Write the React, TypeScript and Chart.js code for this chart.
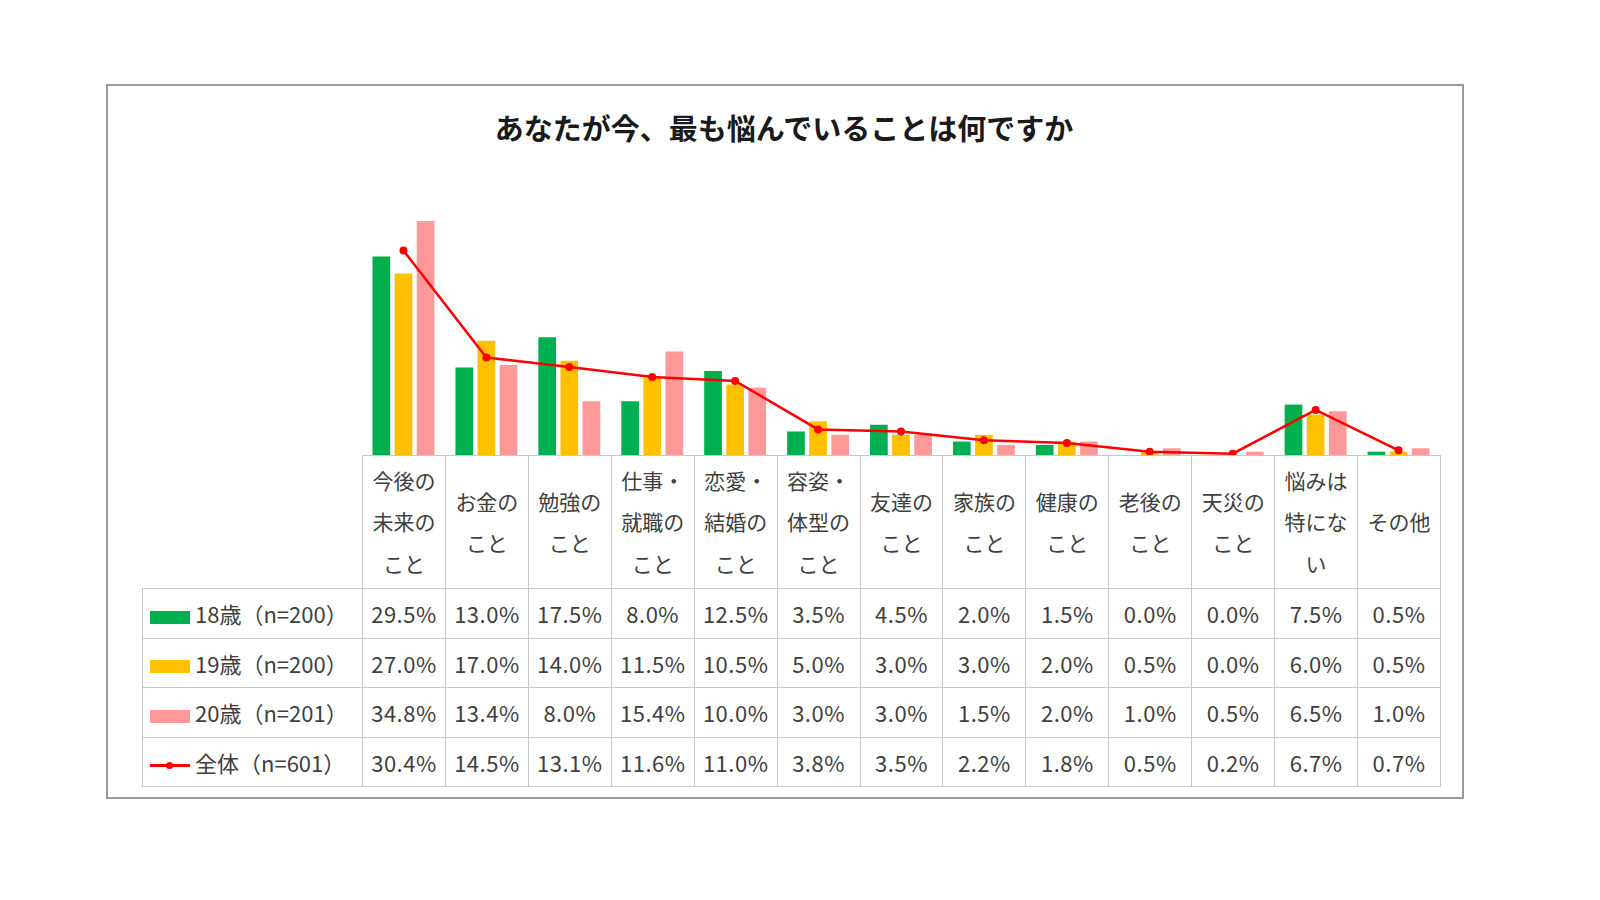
import { useEffect, useRef } from 'react';
import { Chart, registerables } from 'chart.js';

Chart.register(...registerables);

const categories = [
  '今後の\n未来の\nこと',
  'お金の\nこと',
  '勉強の\nこと',
  '仕事・\n就職の\nこと',
  '恋愛・\n結婚の\nこと',
  '容姿・\n体型の\nこと',
  '友達の\nこと',
  '家族の\nこと',
  '健康の\nこと',
  '老後の\nこと',
  '天災の\nこと',
  '悩みは\n特にな\nい',
  'その他',
];

const age18 = [29.5, 13.0, 17.5, 8.0, 12.5, 3.5, 4.5, 2.0, 1.5, 0.0, 0.0, 7.5, 0.5];
const age19 = [27.0, 17.0, 14.0, 11.5, 10.5, 5.0, 3.0, 3.0, 2.0, 0.5, 0.0, 6.0, 0.5];
const age20 = [34.8, 13.4, 8.0, 15.4, 10.0, 3.0, 3.0, 1.5, 2.0, 1.0, 0.5, 6.5, 1.0];
const total = [30.4, 14.5, 13.1, 11.6, 11.0, 3.8, 3.5, 2.2, 1.8, 0.5, 0.2, 6.7, 0.7];

const seriesNames = ['18歳（n=200）', '19歳（n=200）', '20歳（n=201）', '全体（n=601）'];
const colors = ['#00B050', '#FFC000', '#FF9999', '#FF0000'];

const FONT = '"Noto Sans CJK JP", "Noto Sans", sans-serif';
const COL_W = 1078 / categories.length;
const TEXT = '#404040';
const GRID = '#c8c8c8';

export default function App() {
  const chartRef = useRef<HTMLCanvasElement>(null);
  const chartInstance = useRef<Chart | null>(null);

  useEffect(() => {
    if (!chartRef.current) return;
    const ctx = chartRef.current.getContext('2d');
    if (!ctx) return;
    if (chartInstance.current) chartInstance.current.destroy();

    const barSet = (label: string, data: number[], color: string) => ({
      type: 'bar' as const,
      label,
      data,
      backgroundColor: color,
      borderWidth: 0,
      categoryPercentage: 0.8,
      barPercentage: 0.8,
      order: 1,
    });

    chartInstance.current = new Chart(ctx, {
      type: 'bar',
      data: {
        labels: categories,
        datasets: [
          barSet(seriesNames[0], age18, colors[0]),
          barSet(seriesNames[1], age19, colors[1]),
          barSet(seriesNames[2], age20, colors[2]),
          {
            type: 'line' as const,
            label: seriesNames[3],
            data: total,
            borderColor: colors[3],
            backgroundColor: colors[3],
            borderWidth: 2.5,
            pointRadius: 4,
            pointBackgroundColor: colors[3],
            pointBorderWidth: 0,
            tension: 0,
            clip: false,
            order: 0,
          } as any,
        ],
      },
      options: {
        responsive: false,
        maintainAspectRatio: false,
        animation: false,
        layout: { padding: 0, autoPadding: false },
        scales: {
          x: { display: false, offset: true },
          y: { display: false, min: 0, max: 40 },
        },
        plugins: {
          legend: { display: false },
          tooltip: { enabled: false },
        },
      },
    });

    return () => {
      if (chartInstance.current) {
        chartInstance.current.destroy();
        chartInstance.current = null;
      }
    };
  }, []);

  const rows = [age18, age19, age20, total];

  const cell: React.CSSProperties = {
    border: `1px solid ${GRID}`,
    textAlign: 'center',
    verticalAlign: 'middle',
    padding: 0,
    fontSize: 22,
    color: TEXT,
    whiteSpace: 'nowrap',
  };

  const swatch = (i: number) =>
    i < 3 ? (
      <span
        style={{
          display: 'inline-block',
          width: 40,
          height: 13,
          background: colors[i],
          marginRight: 5,
          verticalAlign: 'middle',
        }}
      />
    ) : (
      <span
        style={{
          display: 'inline-block',
          position: 'relative',
          width: 40,
          height: 13,
          marginRight: 5,
          verticalAlign: 'middle',
        }}
      >
        <span style={{ position: 'absolute', left: 0, top: 5, width: 40, height: 2.5, background: colors[3] }} />
        <span
          style={{
            position: 'absolute',
            left: 16,
            top: 3,
            width: 7,
            height: 7,
            borderRadius: '50%',
            background: colors[3],
          }}
        />
      </span>
    );

  return (
    <div
      style={{
        position: 'fixed',
        left: 0,
        top: 0,
        width: 1600,
        height: 900,
        background: '#fff',
        fontFamily: FONT,
      }}
    >
      <div
        style={{
          position: 'absolute',
          left: 106,
          top: 84,
          width: 1354,
          height: 711,
          border: '2px solid #9a9a9a',
        }}
      />
      <div
        style={{
          position: 'absolute',
          left: 106,
          top: 106,
          width: 1356,
          textAlign: 'center',
          fontSize: 29,
          fontWeight: 'bold',
          color: '#1a1a1a',
        }}
      >
        あなたが今、最も悩んでいることは何ですか
      </div>
      <div style={{ position: 'absolute', left: 362, top: 186, width: 1078, height: 269 }}>
        <canvas ref={chartRef} width={1078} height={269} style={{ display: 'block', width: 1078, height: 269 }} />
      </div>
      <table
        style={{
          position: 'absolute',
          left: 142,
          top: 455,
          width: 220 + 1078,
          borderCollapse: 'collapse',
          tableLayout: 'fixed',
          fontFamily: FONT,
        }}
      >
        <colgroup>
          <col style={{ width: 220 }} />
          {categories.map((_, i) => (
            <col key={i} style={{ width: COL_W }} />
          ))}
        </colgroup>
        <tbody>
          <tr style={{ height: 133 }}>
            <td style={{ ...cell, border: 'none', borderRight: `1px solid ${GRID}` }} />
            {categories.map((c, i) => (
              <td key={i} style={{ ...cell, whiteSpace: 'pre-line', lineHeight: '41.5px', fontSize: 21 }}>
                {c}
              </td>
            ))}
          </tr>
          {rows.map((r, ri) => (
            <tr key={ri} style={{ height: 49.5 }}>
              <td style={{ ...cell, textAlign: 'left', paddingLeft: 7 }}>
                {swatch(ri)}
                {seriesNames[ri]}
              </td>
              {r.map((v, i) => (
                <td key={i} style={{ ...cell, letterSpacing: 0.5 }}>
                  {v.toFixed(1)}%
                </td>
              ))}
            </tr>
          ))}
        </tbody>
      </table>
    </div>
  );
}
